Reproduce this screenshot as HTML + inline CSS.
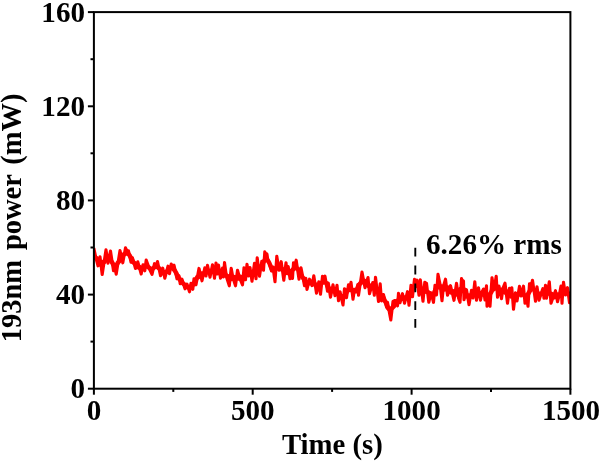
<!DOCTYPE html>
<html lang="en">
<head>
<meta charset="utf-8">
<title>193nm power stability</title>
<style>
html,body{margin:0;padding:0;background:#fff;}
body{width:600px;height:461px;overflow:hidden;}
svg{display:block;}
text{font-family:"Liberation Serif",serif;font-weight:bold;fill:#000;}
.tl text{font-size:29.5px;}
.ax{font-size:29.5px;}
.yl{word-spacing:2.9px;}
</style>
</head>
<body>
<svg width="600" height="461" viewBox="0 0 600 461">
<rect x="0" y="0" width="600" height="461" fill="#ffffff"/>
<clipPath id="plot"><rect x="93.9" y="12.1" width="476.5" height="376.6"/></clipPath>
<g fill="none" stroke="#ff0000" stroke-linejoin="round" stroke-linecap="butt" clip-path="url(#plot)">
<polyline points="93.8,255.8 95.3,258.0 96.8,258.2 98.3,261.2 99.8,264.3 101.3,264.3 102.8,262.0 104.3,261.9 105.8,260.3 107.3,256.8 108.8,256.6 110.3,259.9 111.8,262.0 113.3,264.5 114.8,266.7 116.3,265.8 117.8,262.8 119.3,261.2 120.8,258.2 122.3,255.3 123.8,254.4 125.3,253.8 126.8,253.1 128.3,253.8 129.8,255.7 131.3,258.5 132.8,261.7 134.3,263.0 135.8,263.9 137.3,266.2 138.8,267.5 140.3,267.3 141.8,268.5 143.3,267.7 144.8,266.5 146.3,265.9 147.8,267.0 149.3,267.8 150.8,268.8 152.3,268.9 153.8,267.9 155.3,266.6 156.8,266.6 158.3,267.9 159.8,268.8 161.3,271.3 162.8,273.1 164.3,272.4 165.8,271.8 167.3,271.7 168.8,269.6 170.3,267.8 171.8,267.8 173.3,268.9 174.8,270.6 176.3,273.2 177.8,276.5 179.3,278.9 180.8,280.7 182.3,282.8 183.8,284.1 185.3,285.3 186.8,287.1 188.3,287.1 189.8,287.0 191.3,286.0 192.8,285.1 194.3,282.7 195.8,279.8 197.3,277.1 198.8,276.9 200.3,275.1 201.8,273.5 203.3,274.0 204.8,272.8 206.3,271.7 207.8,271.4 209.3,270.9 210.8,271.0 212.3,271.6 213.8,270.7 215.3,269.7 216.8,271.0 218.3,271.1 219.8,271.4 221.3,271.0 222.8,271.8 224.3,273.0 225.8,275.0 227.3,276.0 228.8,276.7 230.3,278.1 231.8,278.9 233.3,278.0 234.8,277.1 236.3,278.1 237.8,278.5 239.3,278.4 240.8,276.9 242.3,277.7 243.8,276.0 245.3,274.5 246.8,271.9 248.3,272.8 249.8,272.6 251.3,272.3 252.8,272.4 254.3,270.9 255.8,269.7 257.3,268.8 258.8,268.2 260.3,266.8 261.8,265.5 263.3,262.3 264.8,259.9 266.3,260.0 267.8,260.3 269.3,263.0 270.8,266.6 272.3,270.0 273.8,269.2 275.3,268.7 276.8,268.3 278.3,266.5 279.8,265.9 281.3,269.3 282.8,269.3 284.3,270.0 285.8,271.4 287.3,272.1 288.8,271.8 290.3,272.1 291.8,270.7 293.3,269.1 294.8,268.0 296.3,268.4 297.8,268.9 299.3,270.9 300.8,274.9 302.3,276.9 303.8,278.8 305.3,281.6 306.8,282.8 308.3,283.2 309.8,283.2 311.3,281.7 312.8,282.6 314.3,284.4 315.8,284.4 317.3,286.4 318.8,287.1 320.3,284.9 321.8,282.6 323.3,282.6 324.8,281.8 326.3,283.2 327.8,286.6 329.3,288.8 330.8,289.8 332.3,291.1 333.8,290.7 335.3,291.2 336.8,292.3 338.3,294.0 339.8,295.8 341.3,296.7 342.8,296.2 344.3,295.9 345.8,293.7 347.3,290.4 348.8,289.7 350.3,290.1 351.8,289.6 353.3,290.4 354.8,290.8 356.3,291.0 357.8,287.7 359.3,284.5 360.8,282.7 362.3,282.4 363.8,280.7 365.3,281.1 366.8,284.6 368.3,285.8 369.8,285.5 371.3,287.4 372.8,287.3 374.3,287.3 375.8,289.2 377.3,289.9 378.8,291.5 380.3,294.4 381.8,296.0 383.3,297.6 384.8,300.8 386.3,303.4 387.8,307.8 389.3,309.3 390.8,308.5 392.3,307.9 393.8,306.4 395.3,302.3 396.8,301.0 398.3,300.4 399.8,299.2 401.3,298.7 402.8,298.8 404.3,297.5 405.8,298.2 407.3,297.5 408.8,295.4 410.3,293.7 411.8,291.2 413.3,287.2 414.8,286.0 416.3,285.8 417.8,284.6 419.3,287.6 420.8,289.8 422.3,289.3 423.8,288.6 425.3,291.5 426.8,291.9 428.3,292.2 429.8,295.3 431.3,296.7 432.8,295.1 434.3,292.3 435.8,289.0 437.3,286.5 438.8,287.3 440.3,286.9 441.8,286.5 443.3,288.0 444.8,289.3 446.3,287.8 447.8,287.6 449.3,289.9 450.8,292.4 452.3,292.0 453.8,291.3 455.3,293.1 456.8,294.4 458.3,291.5 459.8,289.5 461.3,291.3 462.8,290.6 464.3,289.6 465.8,293.3 467.3,296.5 468.8,295.8 470.3,296.2 471.8,294.3 473.3,293.1 474.8,292.1 476.3,292.1 477.8,292.8 479.3,294.1 480.8,293.2 482.3,294.0 483.8,294.8 485.3,295.3 486.8,297.6 488.3,296.8 489.8,294.1 491.3,292.2 492.8,288.1 494.3,285.8 495.8,286.0 497.3,288.0 498.8,289.7 500.3,291.3 501.8,289.9 503.3,290.9 504.8,292.4 506.3,291.4 507.8,292.1 509.3,294.0 510.8,296.3 512.3,295.5 513.8,297.1 515.3,297.5 516.8,296.4 518.3,294.2 519.8,292.8 521.3,292.1 522.8,293.4 524.3,295.9 525.8,295.9 527.3,295.2 528.8,292.8 530.3,290.1 531.8,289.1 533.3,288.9 534.8,290.2 536.3,293.3 537.8,295.1 539.3,293.8 540.8,294.1 542.3,293.5 543.8,292.8 545.3,291.4 546.8,291.0 548.3,292.3 549.8,294.1 551.3,293.8 552.8,294.9 554.3,297.2 555.8,296.3 557.3,294.6 558.8,295.2 560.3,294.0 561.8,292.1 563.3,291.2 564.8,291.4 566.3,291.9 567.8,293.1 569.3,294.0" stroke-width="4.5"/>
<polyline points="93.8,248.0 95.5,256.0 98.0,265.8 100.0,256.7 102.2,274.5 106.0,249.7 108.0,263.3 110.5,251.0 113.5,270.8 115.0,268.0 116.2,274.2 120.0,250.5 122.8,262.8 125.5,247.8 127.0,251.0 128.5,250.8 131.0,262.2 132.5,257.8 135.5,268.5 137.8,261.8 141.2,274.0 143.0,264.8 144.8,270.8 146.2,260.0 149.5,269.0 152.0,274.3 154.5,263.7 156.0,266.0 157.5,261.5 160.5,275.8 162.8,268.2 164.8,278.3 168.0,266.2 169.5,273.8 171.2,264.0 172.6,266.5 174.0,265.2 177.0,278.8 179.0,275.7 180.2,283.8 182.0,279.2 185.0,288.8 187.0,284.2 189.5,291.8 191.0,283.2 192.8,289.3 194.0,278.7 196.0,284.8 199.0,268.4 202.0,280.8 204.8,267.7 206.0,276.0 207.5,265.2 210.0,277.3 212.5,264.7 214.5,278.3 216.0,263.0 217.3,274.0 218.5,265.0 220.5,278.3 222.5,268.0 223.5,277.0 224.5,262.5 226.5,277.0 229.3,285.8 231.2,268.2 233.0,278.0 235.5,285.8 237.5,270.2 240.0,279.0 242.5,284.8 244.0,267.7 245.5,279.8 247.0,264.2 248.5,276.0 250.0,267.5 252.0,281.3 254.5,263.2 256.0,278.8 257.2,257.8 259.5,276.3 261.8,261.2 263.5,270.3 264.8,251.7 265.6,257.5 266.2,253.5 267.0,254.2 267.8,260.0 269.5,264.0 271.5,271.0 273.0,267.0 275.0,281.8 276.8,256.2 279.0,270.3 281.2,261.7 283.8,280.3 286.0,262.7 287.2,273.8 288.2,266.5 290.0,278.8 291.5,272.0 292.5,278.5 293.5,262.7 295.0,265.0 296.2,260.2 299.0,279.3 301.0,267.7 304.5,285.8 305.8,278.2 307.0,289.5 309.5,279.2 312.0,285.6 313.8,275.7 316.5,293.3 318.8,281.7 320.5,294.3 322.5,276.2 323.8,279.0 325.0,276.2 327.5,291.3 328.3,283.0 330.5,297.3 333.0,284.7 335.0,295.8 337.0,285.2 338.5,300.8 340.0,291.7 343.0,305.0 344.5,288.7 346.5,297.8 348.5,284.7 349.8,289.0 351.0,282.2 353.0,299.3 354.5,289.2 356.0,292.0 357.8,284.7 358.5,295.3 362.0,272.0 365.0,287.8 368.0,277.5 369.5,293.8 372.8,282.5 374.3,295.3 375.5,277.2 378.5,301.5 380.2,283.8 381.5,301.0 383.5,294.5 386.5,306.8 387.5,302.2 390.8,320.0 393.0,301.5 395.0,300.5 397.5,305.8 398.5,293.2 400.0,302.8 402.5,293.7 404.5,303.3 407.5,291.7 409.0,305.3 411.0,285.2 412.5,296.8 414.5,279.2 415.8,283.0 417.0,280.2 419.0,295.3 420.3,279.7 423.0,301.3 424.8,282.2 425.8,286.0 426.5,283.2 428.8,302.3 431.0,292.7 433.5,302.3 435.0,285.2 436.5,295.0 438.0,274.2 440.0,284.0 442.0,300.8 443.5,286.0 445.5,279.2 447.5,295.3 450.5,285.7 452.5,294.0 454.0,300.3 456.5,283.2 458.5,298.0 460.0,302.3 461.5,278.5 462.5,282.0 463.5,281.0 464.0,299.8 466.5,289.7 469.0,304.8 471.5,290.2 473.0,298.0 474.8,281.7 476.5,300.3 478.5,287.7 480.5,300.3 482.0,292.0 483.5,289.0 485.0,300.0 486.5,285.7 487.0,306.3 488.5,298.0 490.0,306.3 492.0,277.7 494.0,290.0 496.2,276.2 497.5,297.3 499.0,286.0 501.5,298.8 503.0,288.0 505.0,283.2 507.5,303.3 509.5,288.2 510.7,293.0 511.8,287.7 513.5,309.3 515.5,292.7 517.0,301.0 519.5,286.2 521.0,296.0 523.5,286.2 525.0,303.3 526.5,296.0 528.0,306.3 529.5,283.7 531.0,287.0 532.5,280.2 535.5,301.3 537.0,286.7 539.0,300.3 541.0,294.0 542.8,288.7 544.0,298.3 545.5,285.2 546.5,298.3 549.3,281.7 551.0,303.3 553.5,296.0 555.5,290.7 557.5,301.8 559.5,294.0 561.0,286.0 562.0,303.3 563.5,282.2 565.5,295.0 567.5,287.7 569.5,302.8 570.0,296.0" stroke-width="3.1"/>
</g>
<line x1="415.3" x2="415.3" y1="247.8" y2="327.8" stroke="#000" stroke-width="1.9" stroke-dasharray="8.8 9"/>
<g stroke="#000" stroke-width="2.0" fill="none">
<rect x="93.9" y="12.1" width="476.5" height="376.6"/>
<line x1="87.9" x2="93.9" y1="388.7" y2="388.7"/><line x1="87.9" x2="93.9" y1="294.6" y2="294.6"/><line x1="87.9" x2="93.9" y1="200.4" y2="200.4"/><line x1="87.9" x2="93.9" y1="106.3" y2="106.3"/><line x1="87.9" x2="93.9" y1="12.1" y2="12.1"/><line x1="90.5" x2="93.9" y1="341.6" y2="341.6"/><line x1="90.5" x2="93.9" y1="247.5" y2="247.5"/><line x1="90.5" x2="93.9" y1="153.3" y2="153.3"/><line x1="90.5" x2="93.9" y1="59.2" y2="59.2"/><line y1="388.7" y2="394.7" x1="93.9" x2="93.9"/><line y1="388.7" y2="394.7" x1="252.7" x2="252.7"/><line y1="388.7" y2="394.7" x1="411.6" x2="411.6"/><line y1="388.7" y2="394.7" x1="570.4" x2="570.4"/><line y1="388.7" y2="391.9" x1="173.3" x2="173.3"/><line y1="388.7" y2="391.9" x1="332.1" x2="332.1"/><line y1="388.7" y2="391.9" x1="491.0" x2="491.0"/>
</g>
<g class="tl"><text transform="translate(85.0 398.4) scale(0.987 1.028)" text-anchor="end">0</text><text transform="translate(85.0 304.2) scale(0.987 1.028)" text-anchor="end">40</text><text transform="translate(85.0 210.1) scale(0.987 1.028)" text-anchor="end">80</text><text transform="translate(85.0 116.0) scale(0.987 1.028)" text-anchor="end">120</text><text transform="translate(85.0 21.8) scale(0.987 1.028)" text-anchor="end">160</text><text transform="translate(93.9 420.3) scale(0.987 1.028)" text-anchor="middle">0</text><text transform="translate(252.7 420.3) scale(0.987 1.028)" text-anchor="middle">500</text><text transform="translate(411.6 420.3) scale(0.987 1.028)" text-anchor="middle">1000</text><text transform="translate(571.0 420.3) scale(0.987 1.028)" text-anchor="middle">1500</text></g>
<text class="ax" transform="translate(332.4 454.1) scale(0.975 0.995)" text-anchor="middle">Time (s)</text><text class="ax yl" transform="translate(20.9 217.9) rotate(-90) scale(0.965 0.97)" text-anchor="middle">193nm power (mW)</text><text class="ax" transform="translate(426.0 253.8) scale(0.987 1.028)" text-anchor="start">6.26% rms</text>
</svg>
</body>
</html>
